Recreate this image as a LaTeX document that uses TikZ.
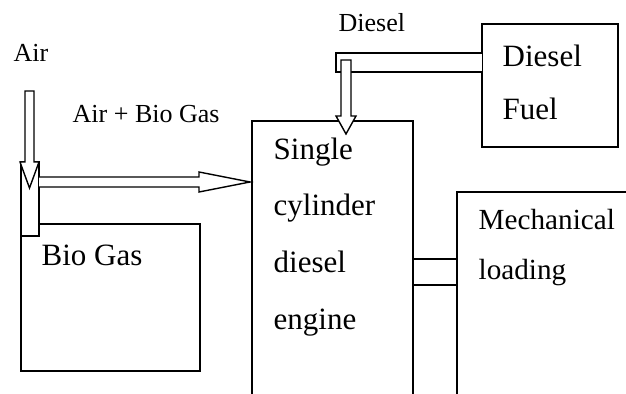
\documentclass[tikz,border=0pt]{standalone}
\usepackage{fontspec}
\setmainfont{Liberation Serif}
\usetikzlibrary{positioning}
\tikzset{
  box/.style={draw, rectangle, fill=white, inner sep=0pt, outer sep=0pt, anchor=north west},
  pipe/.style={draw, fill=white, line join=miter},
  boxtext/.style={font=\fontsize{15.5}{#1}\selectfont, align=left, inner sep=0pt, anchor=north west},
  boxtext/.default=28.3pt,
  note/.style={font=\fontsize{13}{15}\selectfont, inner sep=0pt, anchor=base west},
}

\begin{document}
\begin{tikzpicture}[x=0.5pt, y=-0.5pt, line width=0.7pt]
  \clip (0,0) rectangle (626,394);
  % boxes
  \node[box, minimum width=89.5pt, minimum height=73.5pt] (biogas) at (21,224) {};
  \node[box, minimum width=9pt, minimum height=37pt] (mix) at (21,162) {};
  \node[box, minimum width=80.5pt, minimum height=165pt] (engine) at (252,121) {};
  \node[box, minimum width=122pt, minimum height=130pt] (mech) at (457,192) {};
  \node[box, minimum width=68pt, minimum height=61.5pt] (fuel) at (482,24) {};
  \draw (engine.east |- 0,259) rectangle (mech.west |- 0,285);

  % texts
  \node[boxtext, below right=8pt and 10.5pt of engine.north west] (enginetext) {Single\\cylinder\\diesel\\engine};
  \node[boxtext=26.5pt, below right=10pt and 10pt of fuel.north west] (fueltext) {Diesel\\Fuel};
  \node[boxtext, font=\fontsize{14.6}{25}\selectfont, below right=8.5pt and 10.5pt of mech.north west] (mechtext) {Mechanical\\loading};
  \node[boxtext, below right=10pt and 10pt of biogas.north west] (biogastext) {Bio Gas};
  \node[note] (airtag) at (13,62) {Air};
  \node[note] (mixtag) at (72,123) {Air + Bio Gas};
  \node[note] (dieseltag) at (338,32) {Diesel};

  % air in
  \coordinate (airin) at (29.5,91);
  \draw[pipe] (airin) +(-4.5,0) -- +(-4.5,71) -- +(-9.5,71) -- +(0,97) -- +(9.5,71) -- +(4.5,71) -- +(4.5,0) -- cycle;
  % air + bio gas to engine
  \coordinate (mixout) at (mix.east |- 0,182);
  \draw[pipe] (mixout) +(0,-5) -- +(160,-5) -- +(160,-10) -- +(211,0) -- +(160,10) -- +(160,5) -- +(0,5);
  % diesel line
  \draw[pipe] (fuel.west |- 0,53) -- (336,53) -- (336,72) -- (fuel.west |- 0,72);
  \coordinate (dieseldrop) at (346,60);
  \draw[pipe] (dieseldrop) +(-5,0) -- +(-5,56) -- +(-10,56) -- +(0,74) -- +(10,56) -- +(5,56) -- +(5,0) -- cycle;
\end{tikzpicture}
\end{document}
